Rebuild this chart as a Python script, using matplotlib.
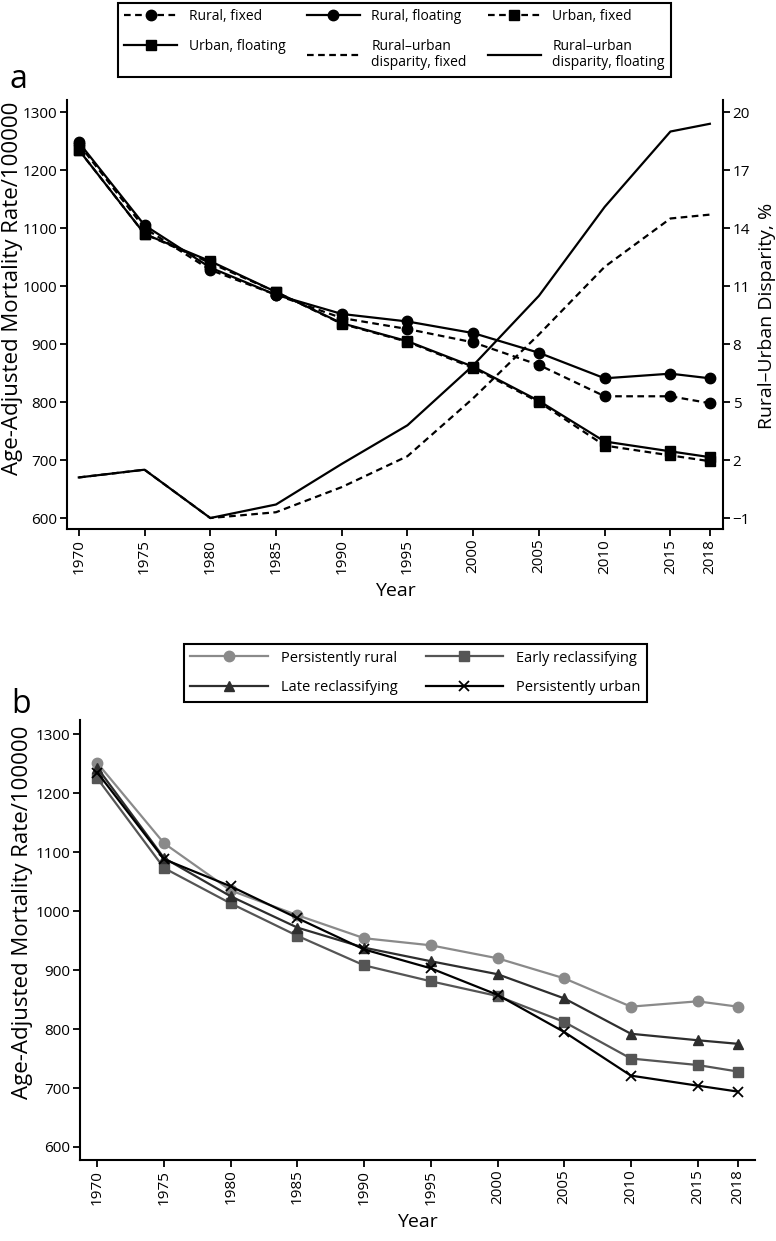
import matplotlib
matplotlib.use("Agg")
import matplotlib.pyplot as plt

years = [1970, 1975, 1980, 1985, 1990, 1995, 2000, 2005, 2010, 2015, 2018]

# panel a: mortality by classification
rural_fixed = [1245, 1100, 1028, 985, 945, 926, 903, 864, 810, 810, 798]
rural_floating = [1248, 1105, 1032, 985, 952, 939, 919, 885, 841, 849, 841]
urban_fixed = [1235, 1090, 1040, 990, 935, 904, 859, 800, 725, 708, 698]
urban_floating = [1235, 1090, 1043, 990, 936, 905, 861, 802, 732, 715, 705]
# rural-urban disparity, %
disp_fixed = [1.1, 1.5, -1.0, -0.7, 0.6, 2.2, 5.2, 8.5, 12.0, 14.5, 14.7]
disp_floating = [1.1, 1.5, -1.0, -0.3, 1.8, 3.8, 6.9, 10.5, 15.1, 19.0, 19.4]

# panel b: by reclassification group
persist_rural = [1251, 1115, 1035, 993, 954, 942, 920, 886, 838, 847, 838]
early_reclass = [1225, 1073, 1013, 958, 908, 881, 856, 812, 750, 739, 728]
late_reclass = [1243, 1090, 1025, 972, 938, 915, 893, 852, 792, 781, 775]
persist_urban = [1235, 1088, 1042, 988, 935, 903, 858, 795, 721, 704, 694]

left_ticks = [600, 700, 800, 900, 1000, 1100, 1200, 1300]
right_ticks = [-1, 2, 5, 8, 11, 14, 17, 20]

plt.rcParams["font.family"] = ["Open Sans", "DejaVu Sans"]

fig = plt.figure(figsize=(7.76, 12.41), dpi=100)

ax1 = fig.add_axes([0.0863, 0.5737, 0.8454, 0.3457])
ax2 = ax1.twinx()
axb = fig.add_axes([0.1031, 0.0653, 0.8698, 0.3545])

dash = (0, (3, 2))
lw = 1.6
ms = 7.5

# ---- panel a ----
l_rf, = ax1.plot(years, rural_fixed, color="black", lw=lw, ls=dash, marker="o", ms=ms)
l_rfl, = ax1.plot(years, rural_floating, color="black", lw=lw, marker="o", ms=ms)
l_uf, = ax1.plot(years, urban_fixed, color="black", lw=lw, ls=dash, marker="s", ms=ms)
l_ufl, = ax1.plot(years, urban_floating, color="black", lw=lw, marker="s", ms=ms)
l_df, = ax2.plot(years, disp_fixed, color="black", lw=lw, ls=dash)
l_dfl, = ax2.plot(years, disp_floating, color="black", lw=lw)

ylo, yhi = 581, 1321
ax1.set_ylim(ylo, yhi)
ax2.set_ylim(-1 + (ylo - 600) * 0.03, -1 + (yhi - 600) * 0.03)
ax1.set_xlim(1969.1, 2019.0)
ax1.set_yticks(left_ticks)
ax2.set_yticks(right_ticks)
ax2.set_yticklabels(["\u22121"] + [str(t) for t in right_ticks[1:]])

ax1.set_ylabel("Age-Adjusted Mortality Rate/100000", fontsize=16)
ax1.yaxis.set_label_coords(-0.067, 0.562)
ax2.set_ylabel("Rural\u2013Urban Disparity, %", fontsize=14)
ax2.yaxis.set_label_coords(1.053, 0.498)
ax1.set_xlabel("Year", fontsize=14, labelpad=6)

for ax in (ax1, ax2):
    ax.spines["top"].set_visible(False)
    for s in ax.spines.values():
        s.set_linewidth(1.5)
ax1.spines["right"].set_visible(False)
ax2.spines["left"].set_visible(False)
ax2.spines["bottom"].set_visible(False)

fig.text(0.012, 0.929, "a", fontsize=23, va="baseline")

handles_a = [l_rf, l_ufl, l_rfl, l_df, l_uf, l_dfl]
labels_a = ["Rural, fixed", "Urban, floating", "Rural, floating",
            "Rural\u2013urban\ndisparity, fixed", "Urban, fixed",
            "Rural\u2013urban\ndisparity, floating"]
leg_a = fig.legend(handles_a, labels_a, ncol=3, loc="upper left",
                   bbox_to_anchor=(0.152, 0.9376, 0.713, 0.06), mode="expand",
                   borderaxespad=0,
                   fontsize=10, handlelength=3.8, columnspacing=0.8,
                   handletextpad=0.85, borderpad=0.45, labelspacing=1.05,
                   fancybox=False, framealpha=1, edgecolor="black")
leg_a.get_frame().set_linewidth(1.5)
for t in leg_a.get_texts():
    t.set_linespacing(1.15)

# ---- panel b ----
c_rural = "#8a8a8a"
c_early = "#555555"
c_late = "#2e2e2e"
c_urban = "#000000"
l_pr, = axb.plot(years, persist_rural, color=c_rural, lw=lw, marker="o", ms=ms)
l_er, = axb.plot(years, early_reclass, color=c_early, lw=lw, marker="s", ms=ms)
l_lr, = axb.plot(years, late_reclass, color=c_late, lw=lw, marker="^", ms=ms)
l_pu, = axb.plot(years, persist_urban, color=c_urban, lw=lw, marker="x", ms=ms,
                 mew=1.3)

axb.set_ylim(578, 1324)
axb.set_xlim(1968.7, 2019.3)
axb.set_yticks(left_ticks)
axb.set_ylabel("Age-Adjusted Mortality Rate/100000", fontsize=16)
axb.yaxis.set_label_coords(-0.0696, 0.563)
axb.set_xlabel("Year", fontsize=14, labelpad=6)
axb.spines["top"].set_visible(False)
axb.spines["right"].set_visible(False)
for s in axb.spines.values():
    s.set_linewidth(1.5)

fig.text(0.014, 0.4255, "b", fontsize=23, va="baseline")

leg_b = fig.legend([l_pr, l_lr, l_er, l_pu],
                   ["Persistently rural", "Late reclassifying",
                    "Early reclassifying", "Persistently urban"],
                   ncol=2, loc="upper left",
                   bbox_to_anchor=(0.237, 0.4311, 0.597, 0.05), mode="expand",
                   borderaxespad=0,
                   fontsize=10.5, handlelength=5.3, columnspacing=1.0,
                   handletextpad=0.9, borderpad=0.45, labelspacing=1.0,
                   fancybox=False, framealpha=1, edgecolor="black")
leg_b.get_frame().set_linewidth(1.5)

for ax in (ax1, ax2, axb):
    ax.tick_params(axis="both", which="major", labelsize=11, width=1.3, length=5,
                   pad=2)
for ax in (ax1, axb):
    ax.set_xticks(years)
    ax.set_xticklabels([str(y) for y in years], rotation=90)

fig.savefig("out.png", dpi=100)
